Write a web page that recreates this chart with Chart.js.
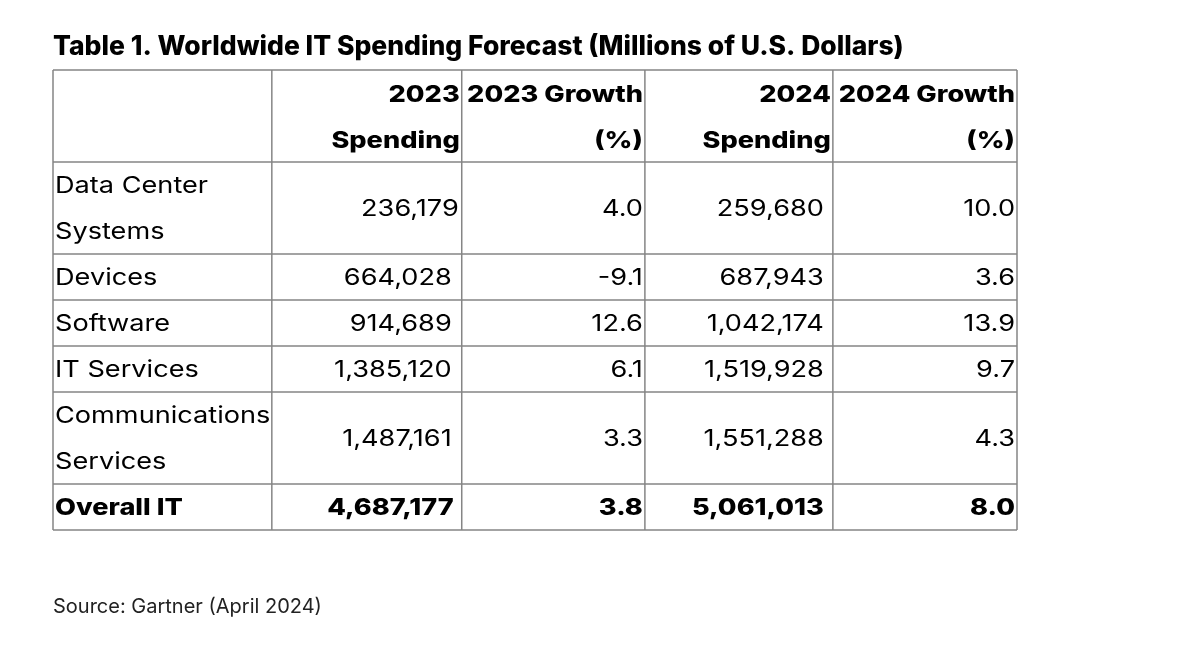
<!DOCTYPE html>
<html>
<head>
<meta charset="utf-8">
<script src="https://cdn.jsdelivr.net/npm/chart.js@4.4.1/dist/chart.umd.min.js"></script>
<style>
  html, body { margin: 0; padding: 0; background: #fff; }
  #wrap { width: 1200px; height: 660px; }
</style>
</head>
<body>
<div id="wrap"><canvas id="tableChart" width="1200" height="660"></canvas></div>
<script>
// table content, read from the Gartner release
const categories = [
  ['Data Center', 'Systems'],
  ['Devices'],
  ['Software'],
  ['IT Services'],
  ['Communications', 'Services'],
  ['Overall IT'],
];
const spending2023 = [236179, 664028, 914689, 1385120, 1487161, 4687177];
const growth2023 = [4.0, -9.1, 12.6, 6.1, 3.3, 3.8];
const spending2024 = [259680, 687943, 1042174, 1519928, 1551288, 5061013];
const growth2024 = [10.0, 3.6, 13.9, 9.7, 4.3, 8.0];
const columnHeaders = [
  ['2023', 'Spending'],
  ['2023 Growth', '(%)'],
  ['2024', 'Spending'],
  ['2024 Growth', '(%)'],
];

// layout of the grid in scale units (x: percent of width, y: text lines)
const colEdges = [0, 22.7, 42.4, 61.4, 80.9, 100];
const headerLines = 2;
const lineCount = headerLines + categories.reduce((n, c) => n + c.length, 0);

const FONT = 'Inter, "DejaVu Sans", sans-serif';
const SX = 1.18; // the original typeface runs wider than Inter

function drawText(ctx, txt, px, py, align) {
  ctx.save();
  ctx.translate(px, py);
  ctx.scale(SX, 1);
  ctx.textAlign = align;
  ctx.fillText(txt, 0, 0);
  ctx.restore();
}

const tablePlugin = {
  id: 'tableGrid',
  afterDraw(chart) {
    const { ctx, scales: { x, y } } = chart;
    const left = x.getPixelForValue(0);
    const right = x.getPixelForValue(100);

    // row boundaries in line units
    const rowEdges = [0, headerLines];
    categories.forEach((c) => rowEdges.push(rowEdges[rowEdges.length - 1] + c.length));

    ctx.save();
    ctx.strokeStyle = '#858585';
    ctx.lineWidth = 1.5;
    rowEdges.forEach((r) => {
      const py = y.getPixelForValue(r);
      ctx.beginPath();
      ctx.moveTo(left, py);
      ctx.lineTo(right, py);
      ctx.stroke();
    });
    colEdges.forEach((c) => {
      const px = x.getPixelForValue(c);
      ctx.beginPath();
      ctx.moveTo(px, y.getPixelForValue(0));
      ctx.lineTo(px, y.getPixelForValue(lineCount));
      ctx.stroke();
    });

    ctx.fillStyle = '#000';
    ctx.textBaseline = 'middle';

    // header row
    ctx.font = '800 23px ' + FONT;
    columnHeaders.forEach((lines, i) => {
      const px = x.getPixelForValue(colEdges[i + 2]) - 2;
      lines.forEach((txt, j) => {
        drawText(ctx, txt, px, y.getPixelForValue(j + 0.5) + 2, 'right');
      });
    });

    // body rows
    const pad = [10, 2, 9, 2];
    categories.forEach((lines, r) => {
      const top = rowEdges[r + 1];
      const mid = top + lines.length / 2;
      const isTotal = r === categories.length - 1;
      ctx.font = (isTotal ? '800 ' : '') + '23px ' + FONT;
      lines.forEach((txt, j) => {
        drawText(ctx, txt, left + 2, y.getPixelForValue(top + j + 0.5) + 1, 'left');
      });
      const cells = [
        spending2023[r].toLocaleString('en-US'),
        growth2023[r].toFixed(1),
        spending2024[r].toLocaleString('en-US'),
        growth2024[r].toFixed(1),
      ];
      cells.forEach((txt, i) => {
        let p = pad[i];
        if (i === 0 && r === 0) p = 3;
        if (i === 0 && isTotal) p = 8;
        drawText(ctx, txt, x.getPixelForValue(colEdges[i + 2]) - p, y.getPixelForValue(mid) + 1, 'right');
      });
    });
    ctx.restore();
  },
};

new Chart(document.getElementById('tableChart'), {
  type: 'scatter',
  data: { datasets: [] },
  options: {
    responsive: false,
    animation: false,
    layout: { padding: { left: 53, right: 183, top: 0, bottom: 0 } },
    scales: {
      x: { type: 'linear', min: 0, max: 100, display: false },
      y: { type: 'linear', min: 0, max: lineCount, reverse: true, display: false },
    },
    plugins: {
      legend: { display: false },
      tooltip: { enabled: false },
      title: {
        display: true,
        text: 'Table 1. Worldwide IT Spending Forecast (Millions of U.S. Dollars)',
        align: 'start',
        color: '#000',
        font: { family: FONT, size: 26.5, weight: 800 },
        padding: { top: 31.1, bottom: 7.1 },
      },
      subtitle: {
        display: true,
        position: 'bottom',
        text: 'Source: Gartner (April 2024)',
        align: 'start',
        color: '#222',
        font: { family: FONT, size: 20, weight: 'normal' },
        padding: { top: 65, bottom: 41 },
      },
    },
  },
  plugins: [tablePlugin],
});
</script>
</body>
</html>
